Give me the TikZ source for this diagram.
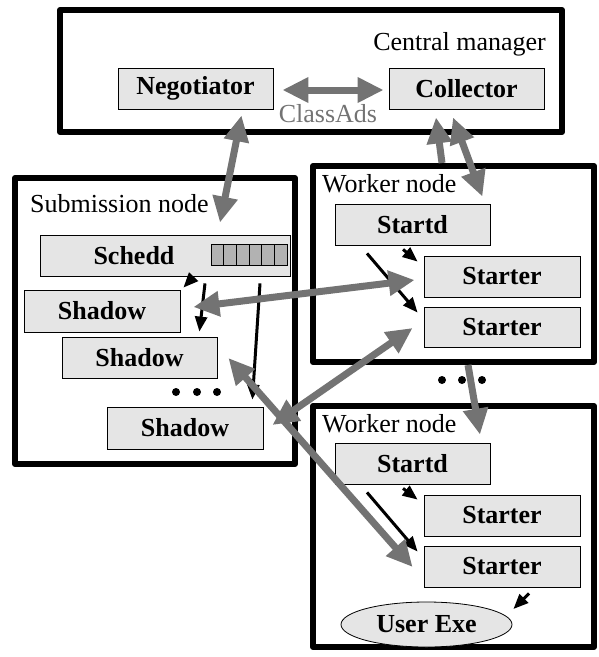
\documentclass[tikz,border=0pt]{standalone}
\usepackage{fontspec}
\setmainfont{Liberation Serif}
\usetikzlibrary{arrows.meta,shapes.geometric}

\begin{document}
\fontsize{26}{31}\selectfont
\begin{tikzpicture}[x=1pt,y=-1pt,
  frame/.style={draw,line width=6pt,line join=round,inner sep=0pt},
  comp/.style={draw,line width=0.8pt,fill=black!10,inner sep=0pt,
    minimum width=155pt,minimum height=41pt,font=\bfseries},
  garrow/.style={color=black!55,line width=7pt,-{Triangle[length=26pt,width=24pt]}},
  gboth/.style={color=black!55,line width=7pt,{Triangle[length=26pt,width=24pt]}-{Triangle[length=26pt,width=24pt]}},
  karrow/.style={line width=3pt,-{Triangle[length=15pt,width=12pt]}},
  dot/.style={circle,fill,inner sep=0pt,minimum size=8pt},
  lbl/.style={inner sep=0pt}]
\useasboundingbox (0,0) rectangle (599,657);

% machines
\node[frame,minimum width=502pt,minimum height=122pt] (central) at (311,71) {};
\node[frame,minimum width=280pt,minimum height=286pt] (submit) at (155,321) {};
\node[frame,minimum width=281pt,minimum height=196pt] (workerA) at (453.5,264) {};
\node[frame,minimum width=281pt,minimum height=241pt] (workerB) at (453.5,526.5) {};

\node[lbl,anchor=base east] (cmlabel) at (546,50) {Central manager};
\node[lbl,anchor=base west] (sublabel) at (30,212) {Submission node};
\node[lbl,anchor=base west] (wlabelA) at (322,192) {Worker node};
\node[lbl,anchor=base west] (wlabelB) at (322,432) {Worker node};

% daemons
\node[comp] (neg) at (195.5,88.5) {Negotiator};
\node[comp] (col) at (466.5,88.5) {Collector};
\node[lbl,anchor=base,text=black!55] (classads) at (328,122) {ClassAds};

\node[comp,minimum width=250pt] (schedd) at (165,255.5) {};
\node[lbl,font=\bfseries] (scheddtext) at (134,256) {Schedd};
\foreach \i in {0,...,5}
  \draw[fill=black!30,line width=0.8pt] (211+\i*12.67,244) rectangle ++(12.67,21);
\node[comp,minimum width=156pt,minimum height=42pt] (shadowA) at (102,311) {Shadow};
\node[comp] (shadowB) at (139.5,357.5) {Shadow};
\node[comp,minimum width=156pt,minimum height=42pt] (shadowC) at (185,428) {Shadow};

\node[comp] (startdA) at (412.5,224.5) {Startd};
\node[comp,minimum width=156pt] (starterA1) at (502,276.5) {Starter};
\node[comp,minimum width=156pt,minimum height=40pt] (starterA2) at (502,327) {Starter};

\node[comp] (startdB) at (412.5,463.5) {Startd};
\node[comp,minimum width=156pt] (starterB1) at (502,515.5) {Starter};
\node[comp,minimum width=156pt] (starterB2) at (502,566.5) {Starter};
\node[comp,ellipse,minimum width=171pt,minimum height=45pt] (userexe) at (426.5,624.5) {User Exe};

% dots
\foreach \x in {176,197,217} \node[dot] at (\x,392) {};
\foreach \x in {442,462,482} \node[dot] at (\x,380) {};

% local spawning
\draw[karrow] ([shift={(28,1)}]schedd.south) -- ([shift={(3,-2)}]shadowA.north east);
\draw[karrow] ([shift={(40,7)}]schedd.south) -- ([shift={(-18,-5)}]shadowB.north east);
\draw[karrow] ([shift={(95,7)}]schedd.south) -- ([shift={(-11,-7)}]shadowC.north east);
\draw[karrow] ([shift={(-9.5,4)}]startdA.south) -- ([shift={(-6,6)}]starterA1.north west);
\draw[karrow] ([shift={(-45.5,8)}]startdA.south) -- ([shift={(-6,6)}]starterA2.north west);
\draw[karrow] ([shift={(-9.5,4)}]startdB.south) -- ([shift={(-6,5)}]starterB1.north west);
\draw[karrow] ([shift={(-45.5,8)}]startdB.south) -- ([shift={(-6,6)}]starterB2.north west);
\draw[karrow] ([shift={(27,6)}]starterB2.south) -- ([shift={(1,-15.5)}]userexe.east);

% network
\draw[gboth] ([shift={(9,1.5)}]neg.east) -- ([shift={(-5,1.5)}]col.west);
\draw[gboth] ([shift={(46,6)}]neg.south) -- ([shift={(55,-12)}]schedd.north);
\draw[garrow] ([shift={(-11.5,0)}]workerA.north) -- ([shift={(-30.5,8)}]col.south);
\draw[gboth] ([shift={(-13.5,8)}]col.south) -- ([shift={(-8,-7)}]startdA.north east);
\draw[gboth] ([shift={(13,-4)}]shadowA.east) -- ([shift={(-9,3.5)}]starterA1.west);
\draw[gboth] ([shift={(9,-3)}]shadowC.east) -- ([shift={(-11,1)}]starterA2.west);
\draw[gboth] ([shift={(11,0.5)}]shadowB.east) -- ([shift={(-11,0.5)}]starterB2.west);
\draw[garrow] ([shift={(14.5,0)}]workerA.south) -- ([shift={(67.5,-8)}]startdB.north);
\end{tikzpicture}
\end{document}
